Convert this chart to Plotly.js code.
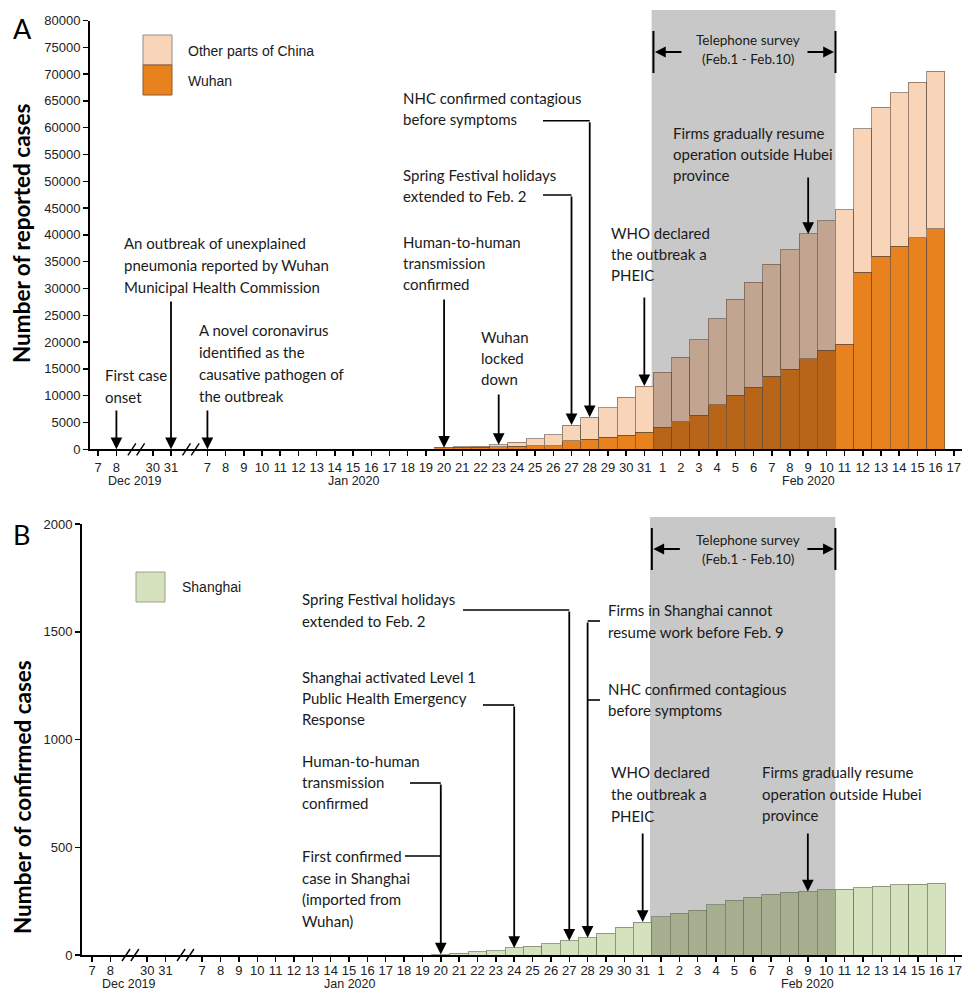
<!DOCTYPE html>
<html><head><meta charset="utf-8">
<script src="https://cdn.plot.ly/plotly-3.0.1.min.js"></script>
<style>html,body{margin:0;padding:0;background:#fff}#chart{width:965px;height:992px}</style>
</head><body><div id="chart"></div>
<script>
// ---------- DATA ----------
const axisDates = ['Dec 7','Dec 8','Dec 30','Dec 31',
 'Jan 7','Jan 8','Jan 9','Jan 10','Jan 11','Jan 12','Jan 13','Jan 14','Jan 15','Jan 16','Jan 17','Jan 18','Jan 19','Jan 20',
 'Jan 21','Jan 22','Jan 23','Jan 24','Jan 25','Jan 26','Jan 27','Jan 28','Jan 29','Jan 30','Jan 31',
 'Feb 1','Feb 2','Feb 3','Feb 4','Feb 5','Feb 6','Feb 7','Feb 8','Feb 9','Feb 10','Feb 11','Feb 12','Feb 13','Feb 14','Feb 15','Feb 16','Feb 17'];
const tickLabels = ['7','8','30','31',
 '7','8','9','10','11','12','13','14','15','16','17','18','19','20',
 '21','22','23','24','25','26','27','28','29','30','31',
 '1','2','3','4','5','6','7','8','9','10','11','12','13','14','15','16','17'];
const monthLabels = ['Dec 2019','Jan 2020','Feb 2020'];

const barDates = ['Jan 20','Jan 21','Jan 22','Jan 23','Jan 24','Jan 25','Jan 26','Jan 27','Jan 28','Jan 29','Jan 30','Jan 31',
 'Feb 1','Feb 2','Feb 3','Feb 4','Feb 5','Feb 6','Feb 7','Feb 8','Feb 9','Feb 10','Feb 11','Feb 12','Feb 13','Feb 14','Feb 15','Feb 16'];
const wuhan = [258,363,425,495,572,618,698,1590,1905,2261,2639,3215,
 4109,5142,6384,8351,10117,11618,13603,14982,16902,18454,19558,32994,35991,37914,39462,41152];
const otherChina = [33,77,146,335,715,1357,2046,2925,4069,5450,7053,8576,
 10271,12063,14054,15973,17901,19543,20943,22216,23269,24184,25095,26810,27860,28578,29038,29396];
const shanghai = [2,9,16,20,33,40,53,66,80,101,128,153,
 177,193,208,233,254,269,281,292,295,302,306,313,318,326,328,332];
const surveyStart = 'Feb 1', surveyEnd = 'Feb 10';

// ---------- LAYOUT HELPERS ----------
// axis positions: one empty slot at each axis break
const tickPos = [];
(function(){ let p = 0; axisDates.forEach((d,i)=>{ if(i===2||i===4) p++; tickPos.push(p); p++; }); })();
function pos(d){ return tickPos[axisDates.indexOf(d)]; }
const barPos = barDates.map(pos);
const total = wuhan.map((v,i)=>v+otherChina[i]);
function totAt(d){ const i=barDates.indexOf(d); return i<0?0:total[i]; }
function shAt(d){ const i=barDates.indexOf(d); return i<0?0:shanghai[i]; }
const sIdx0 = barDates.indexOf(surveyStart), sIdx1 = barDates.indexOf(surveyEnd);
const inSurvey = barDates.map((d,i)=> i>=sIdx0 && i<=sIdx1);

const W=965,H=992;
const A={xl:90,xr:962,yb:449.3,yt:20.5,r0:-0.45,r1:47.45,ymax:80000};
const B={xl:82,xr:962,yb:955,yt:524,r0:-0.55,r1:47.4,ymax:2000};
const px = x => x/W, py = y => 1-y/H;
const dx = (P,x) => P.r0+(x-P.xl)/(P.xr-P.xl)*(P.r1-P.r0);
const dy = (P,y) => (P.yb-y)/(P.yb-P.yt)*P.ymax;
const unit = P => (P.xr-P.xl)/(P.r1-P.r0);

const TXT = {family:'Lato, "Open Sans", sans-serif', size:15, color:'#1a1a1a'};
const ARIAL = {family:'Arial, "Liberation Sans", sans-serif', size:13, color:'#222'};

// ---------- TRACES ----------
const lineA = {color:'rgba(95,75,60,0.6)', width:1};
const traces = [
 {type:'bar', x:barPos, y:wuhan, width:1, xaxis:'x', yaxis:'y', name:'Wuhan',
  marker:{color:inSurvey.map(s=>s?'#B8651A':'#E8821E'), line:lineA}, hoverinfo:'y'},
 {type:'bar', x:barPos, y:otherChina, width:1, xaxis:'x', yaxis:'y', name:'Other parts of China',
  marker:{color:inSurvey.map(s=>s?'#C2A590':'#F8D5B9'), line:lineA}, hoverinfo:'y'},
 {type:'bar', x:barPos, y:shanghai, width:1, xaxis:'x2', yaxis:'y2', name:'Shanghai',
  marker:{color:inSurvey.map(s=>s?'#A6AE90':'#D6E2BD'), line:{color:'rgba(110,120,95,0.7)', width:1}}, hoverinfo:'y'}
];

// ---------- SHAPES ----------
const shapes = [];
function grayRect(P, xa, topPx){
  shapes.push({type:'rect', xref:xa, yref:'paper', layer:'below',
    x0:pos(surveyStart)-0.5-0.1, x1:pos(surveyEnd)+0.5, y0:py(P.yb), y1:py(topPx),
    fillcolor:'#C8C8C8', line:{width:0}});
}
grayRect(A,'x',10); grayRect(B,'x2',517);

function breaks(P, xa){
  [ (pos('Dec 8')+pos('Dec 30'))/2, (pos('Dec 31')+pos('Jan 7'))/2 ].forEach(c=>{
    [c-0.15, c+0.33].forEach(m=>{
      shapes.push({type:'line', xref:xa, yref:'paper', x0:m-0.22, x1:m+0.22,
        y0:py(P.yb+6), y1:py(P.yb-6), line:{color:'#000', width:1.4}});
    });
  });
}
breaks(A,'x'); breaks(B,'x2');

function survey(P, xa, yTop, yBot){
  [pos(surveyStart)-0.5, pos(surveyEnd)+0.5].forEach(x=>{
    shapes.push({type:'line', xref:xa, yref:'paper', x0:x, x1:x, y0:py(yBot), y1:py(yTop),
      line:{color:'#000', width:2}});
  });
}
survey(A,'x',31,73); survey(B,'x2',528,570);

function hline(P, xa, ya, x0px, d, ypx){
  shapes.push({type:'line', xref:xa, yref:ya, x0:dx(P,x0px), x1:pos(d), y0:dy(P,ypx), y1:dy(P,ypx),
    line:{color:'#000', width:1.6}});
}
// top elbows
hline(A,'x','y',543,'Jan 28',120.7);
hline(A,'x','y',543,'Jan 27',195);
// bottom elbows
hline(B,'x2','y2',463,'Jan 27',610);
hline(B,'x2','y2',600,'Jan 28',621);
hline(B,'x2','y2',600,'Jan 28',700);
hline(B,'x2','y2',483,'Jan 24',705);
hline(B,'x2','y2',410,'Jan 20',783);
hline(B,'x2','y2',405,'Jan 20',856);

// legend swatches
function swatch(x0,x1,y0,y1,fill,lc){
  shapes.push({type:'rect', xref:'paper', yref:'paper', x0:px(x0), x1:px(x1), y0:py(y1), y1:py(y0),
    fillcolor:fill, line:{color:lc, width:1}});
}
swatch(143,172,35,65,'#F8D5B9','#9a8a80');
swatch(143,172,65,95,'#E8821E','#8a5a30');
swatch(136,165,572,602,'#D6E2BD','#9aa08a');

// ---------- ANNOTATIONS ----------
const ann = [];
function block(lines, left, top, lh, font){
  lines.forEach((t,i)=>ann.push({xref:'paper', yref:'paper', x:px(left), y:py(top+i*lh),
    xanchor:'left', yanchor:'middle', text:t, showarrow:false, font:font||TXT}));
}
function varrow(P, xa, ya, d, head, tailPx){
  ann.push({xref:xa, yref:ya, axref:xa, ayref:ya, x:pos(d), y:head, ax:pos(d), ay:dy(P,tailPx),
    text:'', showarrow:true, arrowhead:2, arrowsize:1.3, arrowwidth:1.8, arrowcolor:'#000', standoff:0});
}
function harrow(xa, x, ypx, axPix){
  ann.push({xref:xa, yref:'paper', x:x, y:py(ypx), ax:axPix, ay:0, text:'', showarrow:true,
    arrowhead:2, arrowsize:1.2, arrowwidth:1.8, arrowcolor:'#000', standoff:0});
}

// panel A
block(['First case','onset'],103,375,22);
varrow(A,'x','y','Dec 8',totAt('Dec 8'),409);
block(['An outbreak of unexplained','pneumonia reported by Wuhan','Municipal Health Commission'],122,243,22);
varrow(A,'x','y','Dec 31',totAt('Dec 31'),300);
block(['A novel coronavirus','identified as the','causative pathogen of','the outbreak'],197,330,22);
varrow(A,'x','y','Jan 7',totAt('Jan 7'),409);
block(['Human-to-human','transmission','confirmed'],401,242,21);
varrow(A,'x','y','Jan 20',totAt('Jan 20'),298);
block(['Wuhan','locked','down'],479,337,21);
varrow(A,'x','y','Jan 23',totAt('Jan 23'),393);
block(['Spring Festival holidays','extended to Feb. 2'],401,175,21);
varrow(A,'x','y','Jan 27',totAt('Jan 27'),195);
block(['NHC confirmed contagious','before symptoms'],401,98,21);
varrow(A,'x','y','Jan 28',totAt('Jan 28'),120.7);
block(['WHO declared','the outbreak a','PHEIC'],609,233,21);
varrow(A,'x','y','Jan 31',totAt('Jan 31'),296);
block(['Firms gradually resume','operation outside Hubei','province'],671,133,21);
varrow(A,'x','y','Feb 9',totAt('Feb 9'),176);
const SMALL = Object.assign({},TXT,{size:13.5});
ann.push({xref:'paper',yref:'paper',x:px(748),y:py(40),text:'Telephone survey',showarrow:false,font:SMALL,xanchor:'center',yanchor:'middle'});
ann.push({xref:'paper',yref:'paper',x:px(748),y:py(59),text:'(Feb.1 - Feb.10)',showarrow:false,font:SMALL,xanchor:'center',yanchor:'middle'});
harrow('x', pos(surveyStart)-0.5+1.5/unit(A), 52, 28);
harrow('x', pos(surveyEnd)+0.5-1.5/unit(A), 52, -28);

// panel B
block(['Spring Festival holidays','extended to Feb. 2'],300,599,22);
varrow(B,'x2','y2','Jan 27',shAt('Jan 27'),610);
block(['Firms in Shanghai cannot','resume work before Feb. 9'],606,610,22);
block(['NHC confirmed contagious','before symptoms'],606,689,21);
varrow(B,'x2','y2','Jan 28',shAt('Jan 28'),621);
block(['Shanghai activated Level 1','Public Health Emergency','Response'],300,677,21);
varrow(B,'x2','y2','Jan 24',shAt('Jan 24'),705);
block(['Human-to-human','transmission','confirmed'],300,761,21);
block(['First confirmed','case in Shanghai','(imported from','Wuhan)'],300,856,21.7);
varrow(B,'x2','y2','Jan 20',shAt('Jan 20'),783);
block(['WHO declared','the outbreak a','PHEIC'],609,772,22);
varrow(B,'x2','y2','Jan 31',shAt('Jan 31'),832);
block(['Firms gradually resume','operation outside Hubei','province'],760,772,21.5);
varrow(B,'x2','y2','Feb 9',shAt('Feb 9'),832);
ann.push({xref:'paper',yref:'paper',x:px(748),y:py(540),text:'Telephone survey',showarrow:false,font:SMALL,xanchor:'center',yanchor:'middle'});
ann.push({xref:'paper',yref:'paper',x:px(748),y:py(559),text:'(Feb.1 - Feb.10)',showarrow:false,font:SMALL,xanchor:'center',yanchor:'middle'});
harrow('x2', pos(surveyStart)-0.5+1.5/unit(B), 549, 28);
harrow('x2', pos(surveyEnd)+0.5-1.5/unit(B), 549, -28);

// legend texts
const LEG = Object.assign({},ARIAL,{size:14, color:'#1a1a1a'});
block(['Other parts of China'],186,51,0,LEG);
block(['Wuhan'],186,81,0,LEG);
block(['Shanghai'],180,587,0,LEG);

// panel letters & y titles
ann.push({xref:'paper',yref:'paper',x:px(11),y:py(29),text:'A',showarrow:false,xanchor:'left',yanchor:'middle',font:{family:TXT.family,size:27,color:'#000'}});
ann.push({xref:'paper',yref:'paper',x:px(11),y:py(534),text:'B',showarrow:false,xanchor:'left',yanchor:'middle',font:{family:TXT.family,size:27,color:'#000'}});
ann.push({xref:'paper',yref:'paper',x:px(22),y:py(234),text:'<b>Number of reported cases</b>',textangle:-90,showarrow:false,xanchor:'center',yanchor:'middle',font:{family:TXT.family,size:22.5,color:'#000'}});
ann.push({xref:'paper',yref:'paper',x:px(22),y:py(797),text:'<b>Number of confirmed cases</b>',textangle:-90,showarrow:false,xanchor:'center',yanchor:'middle',font:{family:TXT.family,size:22.5,color:'#000'}});

// month labels
const MON = Object.assign({},ARIAL,{size:12.5});
const monthPos = [(pos('Dec 8')+pos('Dec 30'))/2, pos('Jan 15'), pos('Feb 9')];
monthLabels.forEach((m,i)=>{
  ann.push({xref:'x',yref:'paper',x:monthPos[i],y:py(481),text:m,showarrow:false,xanchor:'center',yanchor:'middle',borderpad:0,font:MON});
  ann.push({xref:'x2',yref:'paper',x:monthPos[i],y:py(991.5),text:m,showarrow:false,xanchor:'center',yanchor:'bottom',borderpad:0,font:MON});
});

// ---------- AXES ----------
function xAxis(P, anchor, standoff){
  return {domain:[P.xl/W, P.xr/W], range:[P.r0,P.r1], anchor:anchor, tickmode:'array',
    tickvals:tickPos, ticktext:tickLabels, ticks:'outside', ticklen:5, tickwidth:1.5, tickcolor:'#000',
    ticklabelstandoff:standoff,
    showline:true, linewidth:2, linecolor:'#000', showgrid:false, zeroline:false, tickfont:ARIAL, fixedrange:true};
}
function yAxis(P, anchor, dt){
  return {domain:[1-P.yb/H, 1-P.yt/H], range:[0,P.ymax], anchor:anchor, tickmode:'linear', tick0:0, dtick:dt,
    tickformat:'d', ticks:'outside', ticklen:5, tickwidth:1.5, tickcolor:'#000',
    showline:true, linewidth:2, linecolor:'#000', showgrid:false, zeroline:false, tickfont:ARIAL, fixedrange:true};
}

const layout = {
  width:W, height:H, margin:{l:0,r:0,t:0,b:0}, paper_bgcolor:'#fff', plot_bgcolor:'rgba(0,0,0,0)',
  barmode:'stack', bargap:0, showlegend:false,
  xaxis:xAxis(A,'y',0), yaxis:yAxis(A,'x',5000),
  xaxis2:xAxis(B,'y2',-3), yaxis2:yAxis(B,'x2',500),
  shapes:shapes, annotations:ann
};
Plotly.newPlot('chart', traces, layout, {displayModeBar:false, staticPlot:true});
</script></body></html>
